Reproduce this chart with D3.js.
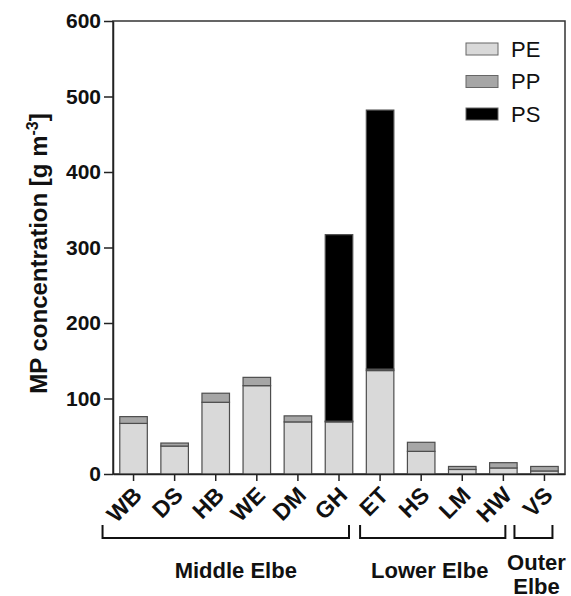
<!DOCTYPE html>
<html>
<head>
<meta charset="utf-8">
<script src="https://cdn.jsdelivr.net/npm/d3@7"></script>
<style>
  body { margin: 0; background: #fff; }
  text { font-family: "Liberation Sans", Arial, sans-serif; fill: #111; }
</style>
</head>
<body>
<div id="chart"></div>
<script>
// sites along the Elbe and polymer concentrations (g m-3)
const sites = ["WB", "DS", "HB", "WE", "DM", "GH", "ET", "HS", "LM", "HW", "VS"];
const pe = [67, 37, 95, 117, 69, 69, 137, 30, 6, 8, 4];
const pp = [9, 4, 12, 11, 8, 1, 2, 12, 4, 7, 6];
const ps = [0, 0, 0, 0, 0, 247, 343, 0, 0, 0, 0];
const polymers = ["PE", "PP", "PS"];
const yTicks = [0, 100, 200, 300, 400, 500, 600];

const groupNames = ["Middle Elbe", "Lower Elbe", "Outer Elbe"];
const groupFirst = ["WB", "ET", "VS"];
const groupLast = ["GH", "HW", "VS"];

const W = 571, H = 596;
const margin = { top: 21, right: 6, bottom: 122, left: 113 };

const svg = d3.select("#chart").append("svg")
  .attr("width", W).attr("height", H);

const x = d3.scaleBand()
  .domain(sites)
  .range([margin.left, W - margin.right])
  .paddingInner(0.33)
  .paddingOuter(0.165);

const y = d3.scaleLinear()
  .domain([0, 600])
  .range([H - margin.bottom, margin.top]);

const color = d3.scaleOrdinal()
  .domain(polymers)
  .range(["#d9d9d9", "#a6a6a6", "#000000"]);

// build rows for the stack
const rows = sites.map((s, i) => ({ site: s, PE: pe[i], PP: pp[i], PS: ps[i] }));
const stacked = d3.stack().keys(polymers)(rows);

// plot frame
svg.append("rect")
  .attr("x", margin.left).attr("y", margin.top)
  .attr("width", W - margin.right - margin.left)
  .attr("height", y(0) - margin.top)
  .attr("fill", "none").attr("stroke", "#333").attr("stroke-width", 1.5);

// bars
svg.append("g").selectAll("g")
  .data(stacked)
  .join("g")
  .attr("fill", d => color(d.key))
  .selectAll("rect")
  .data(d => d.filter(v => v[1] - v[0] > 0))
  .join("rect")
  .attr("x", d => x(d.data.site))
  .attr("width", x.bandwidth())
  .attr("y", d => y(d[1]))
  .attr("height", d => y(d[0]) - y(d[1]))
  .attr("stroke", "#4d4d4d")
  .attr("stroke-width", 1.2);

// y axis
const yAxisG = svg.append("g")
  .attr("transform", `translate(${margin.left},0)`)
  .call(d3.axisLeft(y).tickValues(yTicks).tickSize(9).tickPadding(3).tickSizeOuter(0));
yAxisG.select(".domain").attr("stroke", "#222").attr("stroke-width", 1.5);
yAxisG.selectAll(".tick line").attr("stroke", "#222").attr("stroke-width", 1.5);
yAxisG.selectAll(".tick text")
  .attr("font-size", 21).attr("font-weight", "bold")
  .attr("font-family", "Liberation Sans, Arial, sans-serif").attr("fill", "#111");

// x axis
const xAxisG = svg.append("g")
  .attr("transform", `translate(0,${y(0)})`)
  .call(d3.axisBottom(x).tickSize(7).tickSizeOuter(0));
xAxisG.select(".domain").attr("stroke", "#222").attr("stroke-width", 1.5);
xAxisG.selectAll(".tick line").attr("stroke", "#222").attr("stroke-width", 1.5);
xAxisG.selectAll(".tick text")
  .attr("font-size", 23).attr("font-weight", "bold")
  .attr("font-family", "Liberation Sans, Arial, sans-serif").attr("fill", "#111")
  .attr("text-anchor", "end")
  .attr("y", 0).attr("dy", "0.35em")
  .attr("transform", "translate(4,17) rotate(-45)");

// y label
const yLab = svg.append("text")
  .attr("transform", `translate(47,${(margin.top + y(0)) / 2 + 6}) rotate(-90)`)
  .attr("text-anchor", "middle")
  .attr("font-size", 24).attr("font-weight", "bold");
yLab.append("tspan").text("MP concentration [g m");
yLab.append("tspan").attr("dy", -9).attr("font-size", 16).text("-3");
yLab.append("tspan").attr("dy", 9).text("]");

// legend
const legend = svg.append("g").attr("transform", "translate(466,43)");
polymers.forEach((p, i) => {
  const g = legend.append("g").attr("transform", `translate(0,${i * 32.5})`);
  g.append("rect").attr("width", 32).attr("height", 12)
    .attr("fill", color(p)).attr("stroke", "#666").attr("stroke-width", 1);
  g.append("text").attr("x", 45).attr("y", 6).attr("dy", "0.36em")
    .attr("font-size", 22).text(p);
});

// group brackets below the axis
const bracketPad = [[31, 10], [20, 2], [30, 8]];
const bracketTop = 525, bracketBottom = 538;
groupNames.forEach((name, i) => {
  const x0 = x(groupFirst[i]) + x.bandwidth() / 2 - bracketPad[i][0];
  const x1 = x(groupLast[i]) + x.bandwidth() / 2 + bracketPad[i][1];
  svg.append("path")
    .attr("d", `M${x0},${bracketTop}V${bracketBottom}H${x1}V${bracketTop}`)
    .attr("fill", "none").attr("stroke", "#111").attr("stroke-width", 2);
  const cx = (x0 + x1) / 2;
  const words = name.split(" ");
  const t = svg.append("text")
    .attr("text-anchor", "middle")
    .attr("font-size", 22).attr("font-weight", "bold");
  if (i === 2) {
    t.attr("x", cx + 3).attr("y", 570);
    t.append("tspan").attr("x", cx + 3).text(words[0]);
    t.append("tspan").attr("x", cx + 3).attr("dy", 24).text(words[1]);
  } else {
    t.attr("x", cx + (i === 0 ? 10 : -3)).attr("y", 578).text(name);
  }
});
</script>
</body>
</html>
